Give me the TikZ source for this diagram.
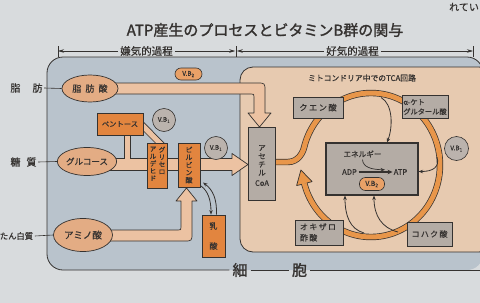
\documentclass[tikz,border=0pt]{standalone}
\usepackage{fontspec}
\setmainfont[FakeBold=0.6]{Noto Sans CJK JP}
\newfontfamily\boldjp[FakeBold=1.6]{Noto Sans CJK JP}
\usetikzlibrary{arrows.meta,shapes.geometric}
\newcommand\fz[2]{\fontsize{#1}{#2}\selectfont}
\definecolor{page}{HTML}{D8DBDD}
\definecolor{cellc}{HTML}{B9C3CC}
\definecolor{mito}{HTML}{E7CAB0}
\definecolor{dark}{HTML}{353230}
\definecolor{peach}{HTML}{ECC2A2}
\definecolor{ellc}{HTML}{E3AC84}
\definecolor{orangebox}{HTML}{E2853F}
\definecolor{greybox}{HTML}{B4ACA5}
\definecolor{ringc}{HTML}{E8964A}
\definecolor{vbc}{HTML}{BBB3AD}
\definecolor{pillc}{HTML}{E9A167}
\tikzset{
 txt/.style={inner sep=0pt, text=dark},
 ellnode/.style={ellipse, draw=dark, fill=ellc, line width=0.7pt, inner sep=0pt, text=dark},
 obox/.style={rectangle, draw=dark, fill=orangebox, line width=0.7pt, inner sep=0pt, text=dark},
 gbox/.style={rectangle, draw=dark, fill=greybox, line width=0.7pt, inner sep=0pt, text=dark},
 vbnode/.style={circle, draw=dark, fill=vbc, line width=0.6pt, minimum size=23pt, inner sep=0pt, text=dark, font=\fz{6.5}{7}},
 pillnode/.style={rectangle, rounded corners=6pt, draw=dark, fill=pillc, line width=0.6pt, inner sep=0pt, text=dark, font=\fz{6.5}{7}},
 band/.style={draw=dark, fill=peach, line width=0.7pt, line join=round},
 thinarr/.style={draw=dark, line width=0.8pt, -{Stealth[length=4.5pt,width=3.5pt]}},
 dimarr/.style={draw=dark, line width=0.6pt, -{Stealth[length=6pt,width=3.5pt]}},
 lbl/.style={draw=dark, line width=0.6pt},
}
\begin{document}
\begin{tikzpicture}[x=1pt,y=-1pt]
\useasboundingbox (0,0) rectangle (480,303);
\clip (0,0) rectangle (480,303);
\fill[page] (0,0) rectangle (480,303);

% title
\node[txt, font=\boldjp\fz{15}{16}] (title) at (265,30) {ATP産生のプロセスとビタミンB群の関与};
\node[txt, anchor=west, font=\fz{10}{11}] (corner) at (449,7) {れてい};

% dimension line
\coordinate (d1) at (58,51);
\coordinate (d2) at (236,51);
\coordinate (d3) at (473,51);
\node[txt, inner xsep=2pt, font=\fz{10.5}{11}] (k1) at (146.5,51) {嫌気的過程};
\node[txt, inner xsep=2pt, font=\fz{10.5}{11}] (k2) at (352.5,51) {好気的過程};
\draw[dimarr] (k1.west) -- (d1);
\draw[dimarr] (k1.east) -- ([xshift=-0.8pt]d2);
\draw[dimarr] (k2.west) -- ([xshift=0.8pt]d2);
\draw[dimarr] (k2.east) -- (d3);
\foreach \c in {d1,d2,d3} \draw[dark, line width=0.7pt] ([yshift=-5.5pt]\c) -- ([yshift=5.5pt]\c);

% cell
\fill[cellc, rounded corners=16pt] (47,57) rectangle (483,270);
\node[txt, inner xsep=3pt, font=\boldjp\fz{15}{16}] (sai) at (240,270) {細};
\node[txt, inner xsep=3pt, font=\boldjp\fz{15}{16}] (hou) at (299.5,270) {胞};
\draw[dark, line width=0.8pt, rounded corners=16pt] (sai.west) -| (47,57) -| (483,300);
\draw[dark, line width=0.8pt] (sai.east) -- (hou.west) (hou.east) -- (486,270);

% mitochondrion
\draw[dark, fill=mito, line width=0.8pt, rounded corners=13pt] (240,67) rectangle (492,252);
\node[txt, font=\fz{7.8}{8}] (tcalbl) at (362,78) {ミトコンドリア中でのTCA回路};

% TCA ring
\coordinate (ringstart) at (275,162);
\draw[ringc, line width=5pt, preaction={draw=dark, line width=6.4pt}]
  (ringstart) -- (288,162) .. controls (298,162) and (302.9,153) .. (304.4,146.4)
  -- plot[domain=195:525, samples=140] ({371+69*cos(\x)},{165+72*sin(\x)});
\fill[ringc] (312.1,181.6) -- (300.9,170.0) -- (296.6,185.6) -- cycle;
\draw[dark, line width=0.7pt, line join=round] (301.9,184.3) -- (296.6,185.6) -- (300.9,170.0) -- (312.1,181.6) -- (306.8,183.0);

% grey boxes
\node[gbox, minimum width=27pt, minimum height=73pt] (acoa) at (261.5,163.5) {};
\node[txt, anchor=north, align=center, font=\fz{7.5}{8.3}] (acoat) at (262,145) {ア\\セ\\チ\\ル\\[2pt]CoA};
\node[gbox, minimum width=50pt, minimum height=21pt, font=\fz{8.3}{9}] (cit) at (318,107.5) {ク\,エ\,ン\,酸};
\node[gbox, minimum width=46pt, minimum height=23pt] (akg) at (425,106.5) {};
\node[txt, align=left, font=\fz{7.2}{9.5}] (akgt) at (425,107) {α-ケト\\グルタール酸};
\node[gbox, minimum width=48pt, minimum height=25pt] (oxa) at (319,232.5) {};
\node[txt, align=left, font=\fz{8}{11}] (oxat) at (318,232.5) {オ\,キ\,ザ\,ロ\\酢\,酸};
\node[gbox, minimum width=45pt, minimum height=24pt, font=\fz{8}{9}] (suc) at (429.5,234) {コ\,ハ\,ク\,酸};
\node[gbox, line width=1.1pt, minimum width=92pt, minimum height=52pt] (ene) at (372,169) {};

% energy contents
\node[txt, font=\fz{7.6}{8}] (eng) at (362.5,154) {エネルギー};
\node[txt, font=\fz{7.6}{8}] (adp) at (349.5,172) {ADP};
\node[txt, font=\fz{7.6}{8}] (atp) at (400.5,172) {ATP};
\draw[dark, line width=1.6pt, -{Stealth[length=5pt,width=4.5pt]}] ([xshift=1.5pt]adp.east) -- ([xshift=-1pt]atp.west);
\draw[thinarr, line width=0.7pt] ([yshift=-2pt]eng.south) .. controls (363,167) and (371,169.5) .. (385,169.8);
\node[pillnode, minimum width=25pt, minimum height=13pt, font=\fz{7}{7.5}] (vb2b) at (372,184) {V.B\textsubscript{2}};

% thin arrows into energy box
\coordinate (t1) at (381,97.5);
\coordinate (t2) at (437,157);
\coordinate (t3) at (364,233);
\coordinate (t4) at (398,232);
\draw[thinarr] (t1) .. controls (393,104) and (393,127) .. ([xshift=15pt]ene.north);
\draw[thinarr] (t2) .. controls (440,167) and (433,171.5) .. ([yshift=-2.5pt]ene.east);
\draw[thinarr] (t3) .. controls (350,229) and (345,216) .. ([xshift=-27pt]ene.south);
\draw[thinarr] (t4) .. controls (382,228) and (374,216) .. ([xshift=2pt]ene.south);

% peach arrows
\draw[band] (112,83) -- (257,83) .. controls (265,83) .. (265,91) -- (265,113) -- (271,113) -- (259.5,127) -- (248,113) -- (254,113) -- (254,97) .. controls (254,94) .. (251,94) -- (112,94) -- cycle;
\draw[band] (108,158.5) -- (232,158.5) -- (232,153.5) -- (248,164.5) -- (232,175.5) -- (232,170.5) -- (108,170.5) -- cycle;
\fill[peach] (124.5,134) rectangle (130.5,159.2);
\draw[dark, line width=0.7pt] (124.5,134) -- (124.5,158.5) (130.5,134) -- (130.5,158.5);
\fill[peach] (142,120.5) -- (164.5,143.5) -- (156,143.5) -- (142,129.5) -- cycle;
\draw[dark, line width=0.7pt] (142,120.5) -- (164.5,143.5) (142,129.5) -- (156,143.5);
\draw[band] (108,230) -- (178,230) .. controls (181,230) .. (181,227) -- (181,201) -- (176,201) -- (186.5,188) -- (197,201) -- (192,201) -- (192,233) .. controls (192,241) .. (184,241) -- (108,241) -- cycle;

% ellipses and source labels
\node[ellnode, minimum width=56pt, minimum height=27pt, font=\fz{9}{10}] (fa) at (90,88.5) {脂\hspace{0.45em}肪\hspace{0.45em}酸};
\node[ellnode, minimum width=58pt, minimum height=28pt, font=\fz{8.5}{9}] (glu) at (87,161.5) {グルコース};
\node[ellnode, minimum width=59pt, minimum height=33pt, font=\fz{9.5}{10}] (ami) at (83,235) {アミノ酸};
\node[txt, inner xsep=1.5pt, font=\fz{10}{11}] (l1) at (26.5,88) {脂\hspace{1.2em}肪};
\node[txt, inner xsep=1.5pt, font=\fz{10}{11}] (l2) at (23.5,162) {糖\hspace{0.6em}質};
\node[txt, inner xsep=1.5pt, font=\fz{8.3}{9}] (l3) at (16.5,236) {たん白質};
\draw[lbl] (l1.east) -- (fa.west);
\draw[lbl] (l2.east) -- (glu.west);
\draw[lbl] (l3.east) -- (ami.west);

% orange boxes
\node[obox, minimum width=46pt, minimum height=22pt, font=\fz{7.3}{8}] (pent) at (120,124) {ペントース};
\node[obox, minimum width=20pt, minimum height=45pt] (glyc) at (157.5,165.5) {};
\node[txt, anchor=north, align=center, font=\fz{6.6}{7.3}] (glyc1) at (162,146.5) {グ\\リ\\セ\\ロ};
\node[txt, anchor=north, align=center, font=\fz{6.6}{7.3}] (glyc2) at (153,146.5) {ア\\ル\\デ\\ヒ\\ド};
\node[obox, minimum width=22pt, minimum height=44pt, align=center, font=\fz{7}{7.6}] (pyr) at (189,165) {ピ\\ル\\ビ\\ン\\酸};
\node[obox, minimum width=23pt, minimum height=42pt] (lac) at (213.5,236) {};
\node[txt, font=\fz{8}{9}] (lac1) at (213.5,226) {乳};
\node[txt, font=\fz{8}{9}] (lac2) at (213.5,246) {酸};

% pyruvate <-> lactate
\draw[thinarr] (201,186) .. controls (208,191) and (211,200) .. ([xshift=-2.5pt]lac.north);
\draw[thinarr] ([xshift=3pt]lac.north) .. controls (217,199) and (213,190) .. (203,182.5);

% vitamins
\node[vbnode] (vb1a) at (164,120) {V.B\textsubscript{1}};
\node[vbnode] (vb1b) at (216,148) {V.B\textsubscript{1}};
\node[vbnode, minimum size=24pt] (vb1c) at (456.5,148.5) {V.B\textsubscript{1}};
\node[pillnode, minimum width=27pt, minimum height=12pt] (vb2a) at (188.5,74) {V.B\textsubscript{2}};
\end{tikzpicture}
\end{document}
